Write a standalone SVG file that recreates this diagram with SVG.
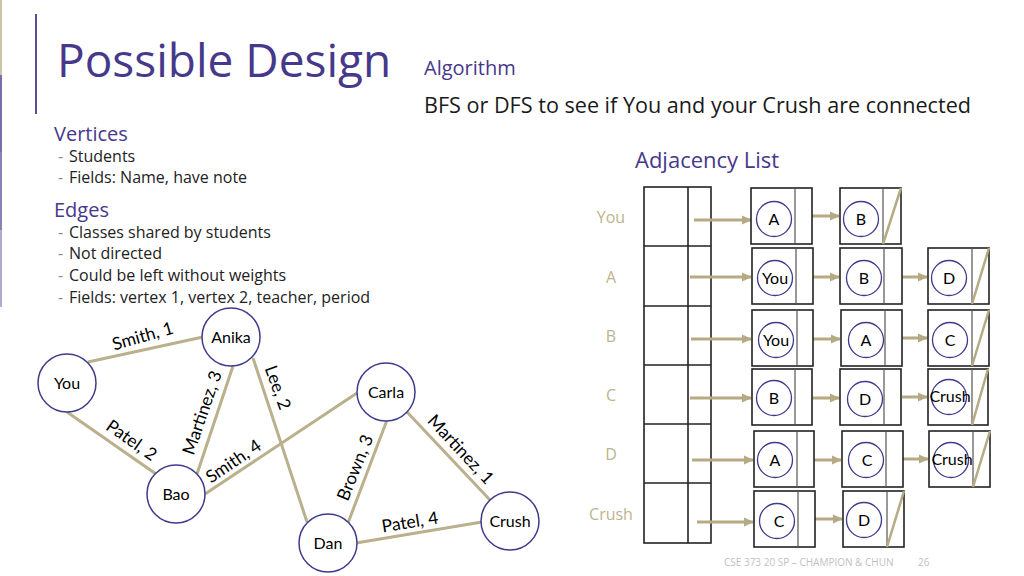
<svg xmlns="http://www.w3.org/2000/svg" width="1024" height="576" viewBox="0 0 1024 576">
<defs>
<marker id="ah" markerUnits="userSpaceOnUse" markerWidth="10" markerHeight="10" refX="9" refY="5" orient="auto"><path d="M0,0.5 L10,5 L0,9.5 Z" fill="#B5AA84"/></marker>
</defs>
<style>
.seg{font-family:"Open Sans","Noto Sans",sans-serif}
.cal{font-family:Lato,"Liberation Sans",sans-serif}
.pur{fill:#46388A}
.edge{stroke:#BAB08C;stroke-width:3;fill:none}
.node{fill:#fff;stroke:#3E3A8C;stroke-width:1.5}
.nt{font-size:16px;fill:#000;text-anchor:middle}
.lbl{font-size:17.5px;fill:#000;text-anchor:middle}
.cell{fill:#fff;stroke:#222;stroke-width:1.6}
.div{stroke:#555;stroke-width:1.2}
.ptr{stroke:#B5AA84;stroke-width:3;marker-end:url(#ah)}
.slash{stroke:#B5AA84;stroke-width:2.5}
.sm{fill:none;stroke:#3E3A8C;stroke-width:1.3}
.rl{font-size:16px;fill:#BDB48C;text-anchor:middle}
.body{font-size:16px;fill:#222}
.dash{font-size:16px;fill:#888}
</style>
<rect width="1024" height="576" fill="#fff"/>
<rect x="0" y="0" width="2" height="75" fill="#CAC5A8"/>
<rect x="0" y="75" width="2" height="77" fill="#7A6EA8"/>
<rect x="0" y="152" width="2" height="78" fill="#8C80B9"/>
<rect x="0" y="230" width="2" height="77" fill="#B2A8D4"/>
<line x1="36" y1="14" x2="36" y2="114" stroke="#5A4E96" stroke-width="2"/>

<g id="title">
<text class="seg pur" x="57" y="77" font-size="46">Possible Design</text>
</g>
<g id="algorithm">
<text class="seg pur" x="424" y="75" font-size="20">Algorithm</text>
<text class="seg" x="424" y="113" font-size="22" fill="#1a1a1a" textLength="547" lengthAdjust="spacingAndGlyphs">BFS or DFS to see if You and your Crush are connected</text>
</g>
<g id="bullets">
<text class="seg pur" x="54" y="141" font-size="20">Vertices</text>
<text class="seg dash" x="58" y="162">-</text><text class="seg body" x="69" y="162">Students</text>
<text class="seg dash" x="58" y="183">-</text><text class="seg body" x="69" y="183">Fields: Name, have note</text>
<text class="seg pur" x="54" y="217" font-size="20">Edges</text>
<text class="seg dash" x="58" y="238">-</text><text class="seg body" x="69" y="238">Classes shared by students</text>
<text class="seg dash" x="58" y="259">-</text><text class="seg body" x="69" y="259">Not directed</text>
<text class="seg dash" x="58" y="281">-</text><text class="seg body" x="69" y="281">Could be left without weights</text>
<text class="seg dash" x="58" y="303">-</text><text class="seg body" x="69" y="303">Fields: vertex 1, vertex 2, teacher, period</text>
</g>

<g id="connectors">
<line class="edge" x1="88" y1="362" x2="203" y2="337"/>
<line class="edge" x1="67" y1="412" x2="156" y2="474"/>
<line class="edge" x1="233" y1="366" x2="197" y2="474"/>
<line class="edge" x1="253" y1="358" x2="307" y2="522"/>
<line class="edge" x1="205" y1="494" x2="357" y2="393"/>
<line class="edge" x1="387" y1="420" x2="348" y2="523"/>
<line class="edge" x1="407" y1="412" x2="490" y2="500"/>
<line class="edge" x1="356" y1="543" x2="482" y2="522"/>
</g>
<g id="edge-labels" class="cal">
<text class="lbl" transform="translate(143,337) rotate(-16)" y="5">Smith, 1</text>
<text class="lbl" transform="translate(203,413) rotate(-71)" y="5">Martinez, 3</text>
<text class="lbl" transform="translate(277,388) rotate(70)" y="5">Lee, 2</text>
<text class="lbl" transform="translate(131,441) rotate(35)" y="5">Patel, 2</text>
<text class="lbl" transform="translate(234,462) rotate(-34)" y="5">Smith, 4</text>
<text class="lbl" transform="translate(356,468) rotate(-68)" y="5">Brown, 3</text>
<text class="lbl" transform="translate(460,450) rotate(47)" y="5">Martinez, 1</text>
<text class="lbl" transform="translate(410,523) rotate(-9)" y="5">Patel, 4</text>
</g>
<g id="node-you" class="cal"><circle class="node" cx="67" cy="383" r="29"/><text class="nt" x="67" y="389">You</text></g>
<g id="node-anika" class="cal"><circle class="node" cx="231" cy="337" r="29"/><text class="nt" x="231" y="343">Anika</text></g>
<g id="node-bao" class="cal"><circle class="node" cx="176" cy="494" r="29"/><text class="nt" x="176" y="500">Bao</text></g>
<g id="node-carla" class="cal"><circle class="node" cx="386" cy="392" r="29"/><text class="nt" x="386" y="398">Carla</text></g>
<g id="node-dan" class="cal"><circle class="node" cx="328" cy="543" r="29"/><text class="nt" x="328" y="549">Dan</text></g>
<g id="node-crush" class="cal"><circle class="node" cx="510" cy="521" r="29"/><text class="nt" x="510" y="527">Crush</text></g>

<g id="adj-title"><text class="seg pur" x="635" y="168" font-size="22">Adjacency List</text></g>

<g id="adj-array">
<rect class="cell" x="644" y="187" width="67" height="356"/>
<line stroke="#222" stroke-width="1.6" x1="688" y1="187" x2="688" y2="543"/>
<line stroke="#222" stroke-width="1.6" x1="644" y1="246" x2="711" y2="246"/>
<line stroke="#222" stroke-width="1.6" x1="644" y1="306" x2="711" y2="306"/>
<line stroke="#222" stroke-width="1.6" x1="644" y1="365" x2="711" y2="365"/>
<line stroke="#222" stroke-width="1.6" x1="644" y1="424" x2="711" y2="424"/>
<line stroke="#222" stroke-width="1.6" x1="644" y1="483" x2="711" y2="483"/>
<text class="seg rl" x="611" y="223">You</text>
<text class="seg rl" x="611" y="283">A</text>
<text class="seg rl" x="611" y="342">B</text>
<text class="seg rl" x="611" y="401">C</text>
<text class="seg rl" x="611" y="460">D</text>
<text class="seg rl" x="611" y="520">Crush</text>
</g>

<g id="adj-pointers">
<line class="ptr" x1="694" y1="220" x2="751" y2="220"/>
<line class="ptr" x1="690" y1="277" x2="751" y2="277"/>
<line class="ptr" x1="691" y1="339" x2="751" y2="339"/>
<line class="ptr" x1="690" y1="398" x2="751" y2="398"/>
<line class="ptr" x1="692" y1="460" x2="753" y2="460"/>
<line class="ptr" x1="697" y1="522" x2="753" y2="522"/>
<line class="ptr" x1="806" y1="216" x2="839" y2="216"/>
<line class="ptr" x1="803" y1="277" x2="839" y2="277"/>
<line class="ptr" x1="902" y1="277" x2="927" y2="277"/>
<line class="ptr" x1="804" y1="339" x2="840" y2="339"/>
<line class="ptr" x1="902" y1="338" x2="927" y2="338"/>
<line class="ptr" x1="803" y1="398" x2="839" y2="398"/>
<line class="ptr" x1="902" y1="397" x2="927" y2="397"/>
<line class="ptr" x1="805" y1="460" x2="841" y2="460"/>
<line class="ptr" x1="903" y1="459" x2="928" y2="459"/>
<line class="ptr" x1="808" y1="519" x2="842" y2="519"/>
</g>

<g class="cal">
<g id="you-a"><rect class="cell" x="751" y="188" width="61" height="56"/><line class="div" x1="795" y1="188" x2="795" y2="244"/><circle class="sm" cx="774" cy="219" r="17.5"/><text class="nt" x="774" y="225">A</text></g>
<g id="you-b"><rect class="cell" x="840" y="188" width="61" height="56"/><line class="div" x1="883" y1="188" x2="883" y2="244"/><circle class="sm" cx="861" cy="219" r="17.5"/><text class="nt" x="861" y="225">B</text><line class="slash" x1="883" y1="244" x2="901" y2="188"/></g>

<g id="a-you"><rect class="cell" x="752" y="248" width="61" height="56"/><line class="div" x1="796" y1="248" x2="796" y2="304"/><circle class="sm" cx="775" cy="278" r="17.5"/><text class="nt" x="775" y="284" font-size="17">You</text></g>
<g id="a-b"><rect class="cell" x="840" y="248" width="62" height="56"/><line class="div" x1="884" y1="248" x2="884" y2="304"/><circle class="sm" cx="864" cy="278" r="17.5"/><text class="nt" x="864" y="284">B</text></g>
<g id="a-d"><rect class="cell" x="928" y="248" width="61" height="56"/><line class="div" x1="972" y1="248" x2="972" y2="304"/><circle class="sm" cx="949" cy="278" r="17.5"/><text class="nt" x="949" y="284">D</text><line class="slash" x1="972" y1="304" x2="989" y2="248"/></g>

<g id="b-you"><rect class="cell" x="752" y="310" width="61" height="56"/><line class="div" x1="797" y1="310" x2="797" y2="366"/><circle class="sm" cx="776" cy="340" r="17.5"/><text class="nt" x="776" y="346" font-size="17">You</text></g>
<g id="b-a"><rect class="cell" x="841" y="310" width="61" height="56"/><line class="div" x1="885" y1="310" x2="885" y2="366"/><circle class="sm" cx="866" cy="340" r="17.5"/><text class="nt" x="866" y="346">A</text></g>
<g id="b-c"><rect class="cell" x="928" y="310" width="61" height="56"/><line class="div" x1="972" y1="310" x2="972" y2="366"/><circle class="sm" cx="950" cy="340" r="17.5"/><text class="nt" x="950" y="346">C</text><line class="slash" x1="972" y1="366" x2="989" y2="310"/></g>

<g id="c-b"><rect class="cell" x="752" y="369" width="60" height="56"/><line class="div" x1="795" y1="369" x2="795" y2="425"/><circle class="sm" cx="774" cy="398" r="17.5"/><text class="nt" x="774" y="404">B</text></g>
<g id="c-d"><rect class="cell" x="840" y="369" width="61" height="56"/><line class="div" x1="884" y1="369" x2="884" y2="425"/><circle class="sm" cx="865" cy="399" r="17.5"/><text class="nt" x="865" y="405">D</text></g>
<g id="c-crush"><rect class="cell" x="928" y="369" width="60" height="56"/><line class="div" x1="972" y1="369" x2="972" y2="425"/><circle class="sm" cx="949" cy="397" r="17.5"/><text class="nt" x="950" y="402" font-size="13">Crush</text><line class="slash" x1="972" y1="425" x2="988" y2="369"/></g>

<g id="d-a"><rect class="cell" x="754" y="431" width="60" height="56"/><line class="div" x1="797" y1="431" x2="797" y2="487"/><circle class="sm" cx="775" cy="460" r="17.5"/><text class="nt" x="775" y="466">A</text></g>
<g id="d-c"><rect class="cell" x="842" y="431" width="61" height="56"/><line class="div" x1="886" y1="431" x2="886" y2="487"/><circle class="sm" cx="866" cy="460" r="17.5"/><text class="nt" x="867" y="466">C</text></g>
<g id="d-crush"><rect class="cell" x="929" y="431" width="61" height="56"/><line class="div" x1="973" y1="431" x2="973" y2="487"/><circle class="sm" cx="951" cy="460" r="17.5"/><text class="nt" x="952" y="465" font-size="13">Crush</text><line class="slash" x1="973" y1="487" x2="990" y2="431"/></g>

<g id="crush-c"><rect class="cell" x="754" y="491" width="61" height="56"/><line class="div" x1="798" y1="491" x2="798" y2="547"/><circle class="sm" cx="777" cy="521" r="17.5"/><text class="nt" x="779" y="527">C</text></g>
<g id="crush-d"><rect class="cell" x="843" y="491" width="61" height="56"/><line class="div" x1="887" y1="491" x2="887" y2="547"/><circle class="sm" cx="864" cy="520" r="17.5"/><text class="nt" x="864" y="526">D</text><line class="slash" x1="887" y1="547" x2="904" y2="491"/></g>
</g>

<g id="footer" class="seg" font-size="10" fill="#BFBFBF">
<text x="724" y="566">CSE 373 20 SP – CHAMPION &amp; CHUN</text>
<text x="918" y="566">26</text>
</g>
</svg>
